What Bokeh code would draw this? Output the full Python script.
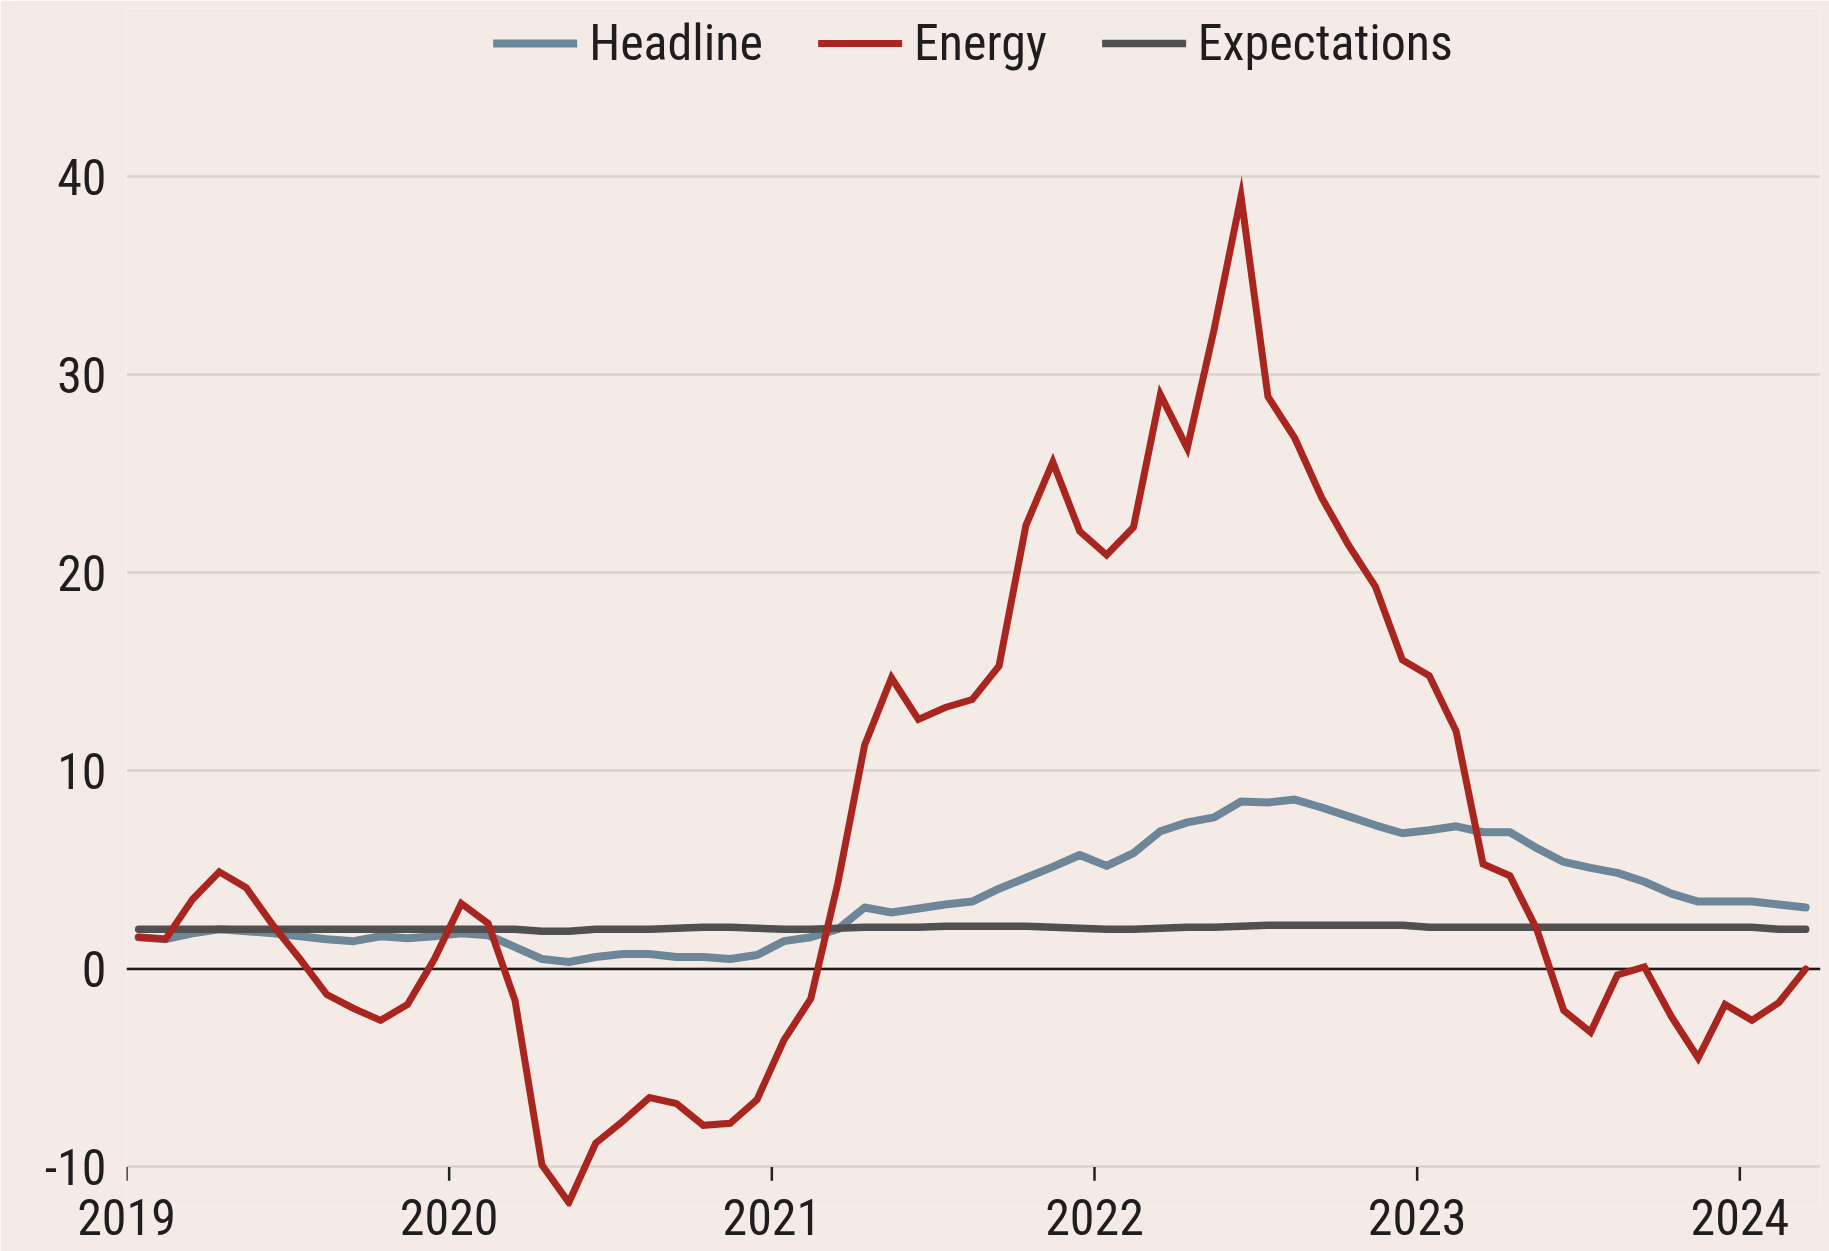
from bokeh.plotting import figure
from bokeh.models import Range1d, FixedTicker, Span, Legend, LegendItem, ColumnDataSource
from bokeh.embed import file_html
from bokeh.resources import INLINE

# ---- data (monthly, Jan 2019 .. Mar 2024) ----
years = [2019] * 12 + [2020] * 12 + [2021] * 12 + [2022] * 12 + [2023] * 12 + [2024] * 3
month_nums = list(range(1, 13)) * 5 + [1, 2, 3]

headline = [1.6, 1.5, 1.8, 2.0, 1.9, 1.8, 1.65, 1.5, 1.4, 1.65, 1.55, 1.65,
            1.8, 1.7, 1.1, 0.5, 0.35, 0.6, 0.75, 0.75, 0.6, 0.6, 0.5, 0.7,
            1.4, 1.6, 2.0, 3.1, 2.85, 3.05, 3.25, 3.4, 4.05, 4.6, 5.15, 5.75,
            5.2, 5.85, 6.95, 7.4, 7.65, 8.45, 8.4, 8.55, 8.15, 7.7, 7.25, 6.85,
            7.0, 7.2, 6.9, 6.9, 6.1, 5.4, 5.1, 4.85, 4.4, 3.8, 3.4, 3.4,
            3.4, 3.25, 3.1]

energy = [1.6, 1.5, 3.5, 4.9, 4.1, 2.2, 0.5, -1.3, -2.0, -2.6, -1.8, 0.5,
          3.3, 2.3, -1.6, -9.9, -11.8, -8.8, -7.7, -6.5, -6.8, -7.9, -7.8, -6.6,
          -3.6, -1.5, 4.3, 11.3, 14.7, 12.6, 13.2, 13.6, 15.3, 22.4, 25.6, 22.1,
          20.9, 22.3, 29.0, 26.3, 32.3, 39.0, 28.9, 26.8, 23.8, 21.4, 19.3, 15.6,
          14.8, 12.0, 5.3, 4.7, 2.0, -2.1, -3.2, -0.3, 0.1, -2.4, -4.5, -1.8,
          -2.6, -1.7, 0.0]

expectations = [2.0, 2.0, 2.0, 2.0, 2.0, 2.0, 2.0, 2.0, 2.0, 2.0, 2.0, 2.0,
                2.0, 2.0, 2.0, 1.9, 1.9, 2.0, 2.0, 2.0, 2.05, 2.1, 2.1, 2.05,
                2.0, 2.0, 2.05, 2.1, 2.1, 2.1, 2.15, 2.15, 2.15, 2.15, 2.1, 2.05,
                2.0, 2.0, 2.05, 2.1, 2.1, 2.15, 2.2, 2.2, 2.2, 2.2, 2.2, 2.2,
                2.1, 2.1, 2.1, 2.1, 2.1, 2.1, 2.1, 2.1, 2.1, 2.1, 2.1, 2.1,
                2.1, 2.0, 2.0]

series_names = ["Headline", "Energy", "Expectations"]
year_ticks = [2019, 2020, 2021, 2022, 2023, 2024]
value_ticks = [-10, 0, 10, 20, 30, 40]
axis_floor = -10  # value at which the x-axis tick marks hang

# decimal-year position of each monthly observation (mid-month)
x = [y + (m - 1 + 0.45) / 12.0 for y, m in zip(years, month_nums)]

src = ColumnDataSource(dict(x=x, headline=headline, energy=energy, expectations=expectations))

BG = "#F5EBE6"
FONT = "Roboto Condensed"
FS = "50px"

p = figure(width=1829, height=1251, output_backend="svg", toolbar_location=None,
           x_range=Range1d(2019.0, 2024.25), y_range=Range1d(-12.0, 48.5),
           min_border_left=126, min_border_right=9, min_border_top=8, min_border_bottom=45)
p.background_fill_color = BG
p.border_fill_color = BG
p.outline_line_color = None

# axes
p.xaxis.ticker = FixedTicker(ticks=year_ticks)
p.xaxis.major_label_overrides = {t: str(t) for t in year_ticks}
p.xaxis.axis_line_color = None
p.xaxis.minor_tick_line_color = None
p.xaxis.major_tick_line_color = None
p.xaxis.major_tick_in = 0
p.xaxis.major_tick_out = 0
p.xaxis.major_label_standoff = -8
p.xaxis.major_label_text_font = FONT
p.xaxis.major_label_text_font_size = FS
p.xaxis.major_label_text_color = "#1e1e1e"

p.yaxis.ticker = FixedTicker(ticks=value_ticks)
p.yaxis.major_label_overrides = {v: str(v) for v in value_ticks}
p.yaxis.axis_line_color = None
p.yaxis.minor_tick_line_color = None
p.yaxis.major_tick_line_color = None
p.yaxis.major_tick_in = 0
p.yaxis.major_tick_out = 0
p.yaxis.major_label_standoff = 20
p.yaxis.major_label_text_font = FONT
p.yaxis.major_label_text_font_size = FS
p.yaxis.major_label_text_color = "#1e1e1e"

p.xgrid.grid_line_color = None
p.ygrid.ticker = FixedTicker(ticks=value_ticks)
p.ygrid.grid_line_color = "#DCD1CC"
p.ygrid.grid_line_width = 2.5

zero = Span(location=0, dimension="width", line_color="#1a1a1a", line_width=2.5, level="underlay")
p.add_layout(zero)

# year tick marks hanging below the -10 gridline
p.segment(x0=year_ticks, y0=[axis_floor] * len(year_ticks),
          x1=year_ticks, y1=[axis_floor - 0.7] * len(year_ticks),
          line_color="#222222", line_width=2.5)

r_head = p.line("x", "headline", source=src, line_color="#6E8798", line_width=8,
                line_join="round", line_cap="round")
r_exp = p.line("x", "expectations", source=src, line_color="#505050", line_width=7.5,
               line_join="round", line_cap="round")
r_en = p.line("x", "energy", source=src, line_color="#A8261F", line_width=7,
              line_join="miter", line_cap="round")

legend = Legend(items=[LegendItem(label=series_names[0], renderers=[r_head]),
                       LegendItem(label=series_names[1], renderers=[r_en]),
                       LegendItem(label=series_names[2], renderers=[r_exp])],
                location="top_center", orientation="horizontal")
legend.background_fill_alpha = 0
legend.border_line_color = None
legend.label_text_font = FONT
legend.label_text_font_size = FS
legend.label_text_color = "#1e1e1e"
legend.glyph_width = 84
legend.glyph_height = 40
legend.label_standoff = 12
legend.spacing = 55
legend.padding = 0
legend.margin = 6
p.add_layout(legend)

open("out.html", "w").write(file_html(p, INLINE))
